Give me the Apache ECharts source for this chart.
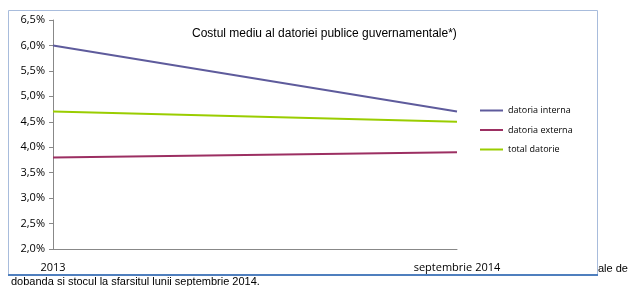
<!DOCTYPE html>
<html>
<head>
<meta charset="utf-8">
<script src="https://cdn.jsdelivr.net/npm/echarts@6/dist/echarts.min.js"></script>
<style>
html,body{margin:0;padding:0;background:#fff;}
#c{width:634px;height:286px;}
</style>
</head>
<body>
<div id="c"></div>
<script>
var categories = ['2013', 'septembrie 2014'];
var datoriaInterna = [6.0, 4.7];
var datoriaExterna = [3.8, 3.9];
var totalDatorie = [4.7, 4.5];
var titleText = 'Costul mediu al datoriei publice guvernamentale*)';
var noteRight = 'ale de';
var noteBottom = 'dobanda si stocul la sfarsitul lunii septembrie 2014.';

var chart = echarts.init(document.getElementById('c'));
chart.setOption({
  animation: false,
  backgroundColor: '#fff',
  title: {
    text: titleText,
    left: 187, top: 23, padding: [5, 5],
    textStyle: {fontFamily: 'Liberation Sans', fontSize: 12, fontWeight: 'normal', color: '#000'}
  },
  grid: {left: 53, right: 177, top: 20, bottom: 37},
  legend: {
    orient: 'vertical', left: 480, top: 105, padding: 0,
    icon: 'rect', itemWidth: 23, itemHeight: 2, itemGap: 8.5,
    textStyle: {fontFamily: 'Open Sans', fontSize: 9, color: '#000', lineHeight: 11},
    data: ['datoria interna', 'datoria externa', 'total datorie']
  },
  xAxis: {
    type: 'category', data: categories, boundaryGap: false,
    axisLine: {lineStyle: {color: '#888', width: 1}},
    axisTick: {show: false},
    axisLabel: {fontFamily: 'Open Sans', fontSize: 11, color: '#000', margin: 13}
  },
  yAxis: {
    type: 'value', min: 2, max: 6.5, interval: 0.5,
    axisLine: {show: true, lineStyle: {color: '#888', width: 1}},
    axisTick: {show: true, length: 4, lineStyle: {color: '#888'}},
    splitLine: {show: false},
    axisLabel: {fontFamily: 'Open Sans', fontSize: 11, color: '#000', margin: 8,
      formatter: function(v){ return v.toFixed(1).replace('.', ',') + '%'; }}
  },
  series: [
    {name: 'datoria interna', type: 'line', data: datoriaInterna, symbol: 'none',
      lineStyle: {color: '#5e5b9c', width: 2}, itemStyle: {color: '#5e5b9c'}},
    {name: 'datoria externa', type: 'line', data: datoriaExterna, symbol: 'none',
      lineStyle: {color: '#9c2f62', width: 2}, itemStyle: {color: '#9c2f62'}},
    {name: 'total datorie', type: 'line', data: totalDatorie, symbol: 'none',
      lineStyle: {color: '#9acd00', width: 2}, itemStyle: {color: '#9acd00'}}
  ],
  graphic: [
    {type: 'line', shape: {x1: 8.5, y1: 10.5, x2: 597.5, y2: 10.5}, style: {stroke: '#a8bcdc', lineWidth: 1}},
    {type: 'line', shape: {x1: 8.5, y1: 10.5, x2: 8.5, y2: 275}, style: {stroke: '#a8bcdc', lineWidth: 1}},
    {type: 'line', shape: {x1: 597.5, y1: 10.5, x2: 597.5, y2: 275}, style: {stroke: '#a8bcdc', lineWidth: 1}},
    {type: 'line', shape: {x1: 8, y1: 275, x2: 598, y2: 275}, style: {stroke: '#4f7fbe', lineWidth: 2}},
    {type: 'text', left: 598, top: 263, style: {text: noteRight, font: '11px "Liberation Sans"', fill: '#000'}},
    {type: 'text', left: 11, top: 276, style: {text: noteBottom, font: '11px "Liberation Sans"', fill: '#000'}}
  ]
});
</script>
</body>
</html>
